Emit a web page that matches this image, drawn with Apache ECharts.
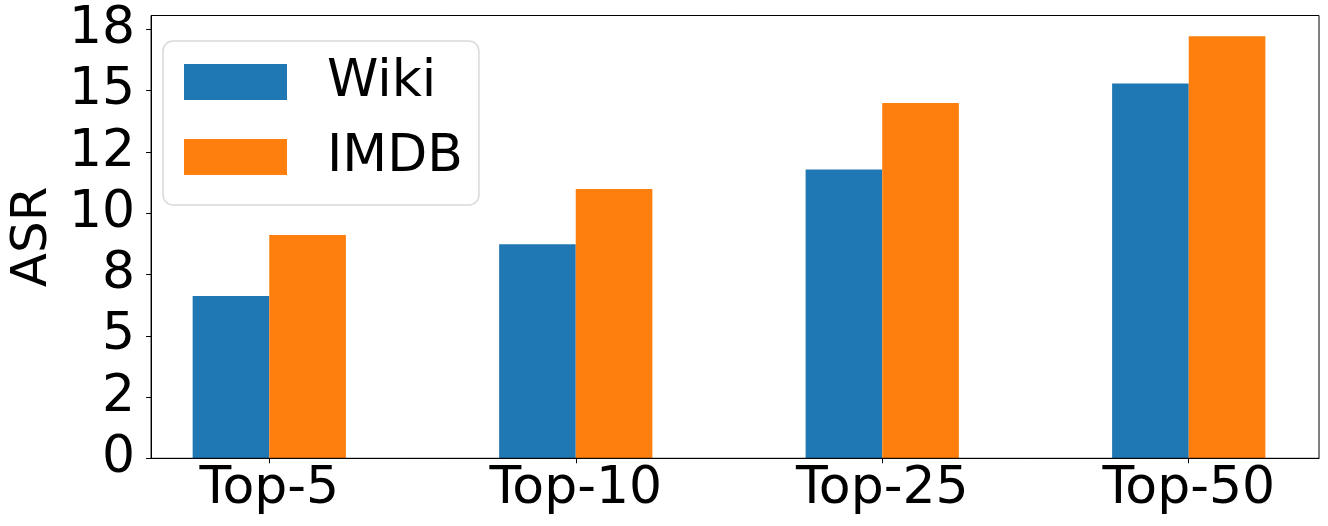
<!DOCTYPE html>
<html>
<head>
<meta charset="utf-8">
<script src="https://cdn.jsdelivr.net/npm/echarts@6/dist/echarts.min.js"></script>
<style>html,body{margin:0;padding:0;background:#fff}#c{width:1328px;height:526px}</style>
</head>
<body>
<div id="c"></div>
<script>
const categories = ['Top-5', 'Top-10', 'Top-25', 'Top-50'];
const wiki = [6.62, 8.73, 11.79, 15.30];
const imdb = [9.11, 10.99, 14.50, 17.22];
const yTickValues = [0, 2.5, 5, 7.5, 10, 12.5, 15, 17.5];
const yTickLabels = ['0', '2', '5', '8', '10', '12', '15', '18'];
const yMax = 18.07;

const FONT = 'DejaVu Sans';
const chart = echarts.init(document.getElementById('c'), null, {renderer: 'canvas'});

// frame grid (axes box) and bar grid (first to last category, like matplotlib's x-limits)
const frame = {left: 139, top: 15.5, right: 9, bottom: 67.7};
const band = (1328 - frame.left - frame.right) / 3.85;
const barGridLeft = frame.left + 0.425 * band;

chart.setOption({
  animation: false,
  textStyle: {fontFamily: FONT},
  grid: [
    {left: frame.left, top: frame.top, right: frame.right, bottom: frame.bottom,
     show: true, borderColor: '#000', borderWidth: 1, backgroundColor: 'transparent', z: 5},
    {left: barGridLeft, top: frame.top, width: band * 3, bottom: frame.bottom}
  ],
  legend: {
    orient: 'vertical', left: 163, top: 41,
    data: ['Wiki', 'IMDB'],
    itemWidth: 103, itemHeight: 36, itemGap: 23,
    padding: [15, 16, 22, 21],
    borderColor: '#d9d9d9', borderWidth: 1.5, borderRadius: 10,
    backgroundColor: 'rgba(255,255,255,0.8)',
    icon: 'rect',
    textStyle: {fontFamily: FONT, fontSize: 52, color: '#000', padding: [0, 0, 0, 35]}
  },
  xAxis: [
    {gridIndex: 0, type: 'value', min: 0, max: 1,
     splitLine: {show: false}, axisTick: {show: false}, axisLabel: {show: false},
     axisLine: {show: true, onZero: false, lineStyle: {color: '#000', width: 1}}},
    {gridIndex: 1, type: 'category', data: categories, boundaryGap: false,
     axisLine: {show: false},
     axisTick: {show: true, length: 5, lineStyle: {color: '#000', width: 1}},
     axisLabel: {interval: 0, margin: 5, fontFamily: FONT, fontSize: 52, color: '#000'}}
  ],
  yAxis: [
    {gridIndex: 0, type: 'value', min: 0, max: yMax,
     name: 'ASR', nameLocation: 'middle', nameGap: 86, nameRotate: 90,
     nameTextStyle: {fontFamily: FONT, fontSize: 50, color: '#000'},
     splitLine: {show: false},
     axisLine: {show: true, onZero: false, lineStyle: {color: '#000', width: 1}},
     axisTick: {show: true, customValues: yTickValues, length: 5, lineStyle: {color: '#000'}},
     axisLabel: {
       customValues: yTickValues, margin: 16, padding: [7, 0, 0, 0],
       fontFamily: FONT, fontSize: 52, color: '#000',
       formatter: v => yTickLabels[yTickValues.indexOf(v)]
     }},
    {gridIndex: 1, type: 'value', min: 0, max: yMax, show: false}
  ],
  series: [
    {name: 'Wiki', type: 'bar', xAxisIndex: 1, yAxisIndex: 1, barWidth: 0.25 * band, barGap: '0%',
     clip: false, itemStyle: {color: '#1f77b4'}, data: wiki},
    {name: 'IMDB', type: 'bar', xAxisIndex: 1, yAxisIndex: 1, barWidth: 0.25 * band, barGap: '0%',
     clip: false, itemStyle: {color: '#ff7f0e'}, data: imdb}
  ]
});
</script>
</body>
</html>
